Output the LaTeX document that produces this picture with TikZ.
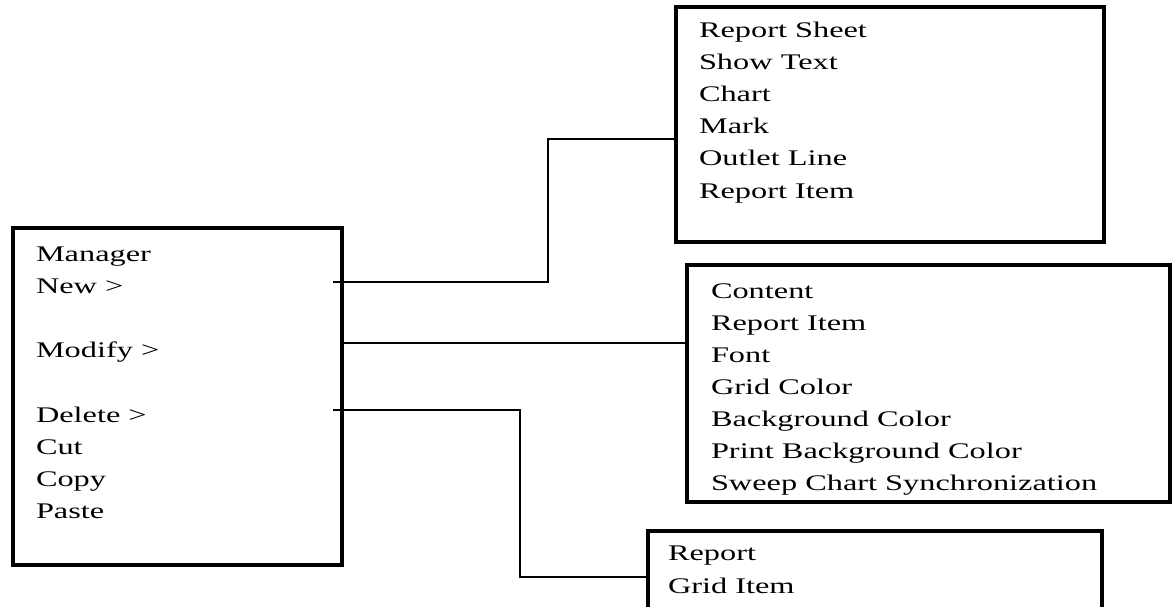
\documentclass[tikz,border=0pt]{standalone}
\usepackage{fontspec}
\setmainfont[FakeStretch=1.45]{Liberation Serif}
\begin{document}
\begin{tikzpicture}[x=1pt,y=-1pt,
  menubox/.style={draw=black,line width=4pt,inner sep=0pt,outer sep=0pt,anchor=north west,fill=none},
  item/.style={anchor=base west,inner sep=0pt,outer sep=0pt,font=\fontsize{22.3}{26}\selectfont},
  link/.style={draw=black,line width=2.2pt}]
\useasboundingbox (0,0) rectangle (1176,607);
\clip (0,0) rectangle (1176,607);
\fill[white] (0,0) rectangle (1176,607);
% boxes
\node[menubox,minimum width=329pt,minimum height=337pt] (mainbox) at (13,228) {};
\node[menubox,minimum width=428pt,minimum height=235pt] (newbox) at (676,7) {};
\node[menubox,minimum width=483pt,minimum height=237pt] (modbox) at (687,265) {};
\node[menubox,minimum width=454pt,minimum height=100pt] (delbox) at (648,531) {};
% main menu items
\node[item] (m1) at (36,261) {Manager};
\node[item] (m2) at (36,293.2) {New >};
\node[item] (m3) at (36,357.6) {Modify >};
\node[item] (m4) at (36,422) {Delete >};
\node[item] (m5) at (36,454.2) {Cut};
\node[item] (m6) at (36,486.4) {Copy};
\node[item] (m7) at (36,518.6) {Paste};
% new submenu
\node[item] (n1) at (699,38) {Report Sheet};
\node[item] (n2) at (699,70) {Show Text};
\node[item] (n3) at (699,102) {Chart};
\node[item] (n4) at (699,134) {Mark};
\node[item] (n5) at (699,166) {Outlet Line};
\node[item] (n6) at (699,198) {Report Item};
% modify submenu
\node[item] (d1) at (711,298) {Content};
\node[item] (d2) at (711,330) {Report Item};
\node[item] (d3) at (711,362) {Font};
\node[item] (d4) at (711,394) {Grid Color};
\node[item] (d5) at (711,426) {Background Color};
\node[item] (d6) at (711,458) {Print Background Color};
\node[item] (d7) at (711,490) {Sweep Chart Synchronization};
% delete submenu
\node[item] (e1) at (668,560) {Report};
\node[item] (e2) at (668,593) {Grid Item};
% connectors
\coordinate (newstart) at (333,282);
\coordinate (delstart) at (333,410);
\draw[link] (newstart) -- (548,282) -- (548,139) -- (newbox.west |- 0,139);
\draw[link] (mainbox.east |- 0,343) -- (modbox.west |- 0,343);
\draw[link] (delstart) -- (520,410) -- (520,577) -- (delbox.west |- 0,577);
\end{tikzpicture}
\end{document}
